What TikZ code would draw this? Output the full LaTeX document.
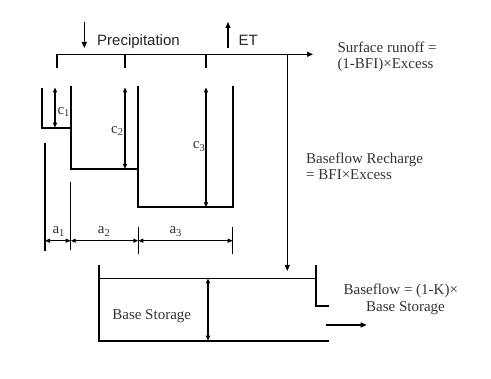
\documentclass[tikz,border=0pt]{standalone}
\usepackage{fontspec}
\setmainfont{Liberation Serif}
\newfontfamily\arialf{Liberation Sans}
\usetikzlibrary{arrows.meta}
\begin{document}
\begin{tikzpicture}[x=1pt,y=-1pt,
  thickline/.style={line width=1.7pt},
  thinline/.style={line width=1.1pt},
  arr/.style={-{Triangle[length=6pt,width=5pt]}, line width=1.1pt},
  dimarr/.style={{Triangle[length=5pt,width=4pt]}-{Triangle[length=5pt,width=4pt]}, line width=1.1pt},
  lbl/.style={inner sep=0pt, text=black!80, font=\fontsize{15}{17}\selectfont},
  slbl/.style={inner sep=0pt, text=black!85, font=\arialf\fontsize{15}{17}\selectfont}]
\useasboundingbox (0,0) rectangle (491,379);
% top inputs
\coordinate (p1) at (84.3,22); \coordinate (p2) at (84.3,48);
\draw[arr] (p1) -- (p2);
\node[slbl, anchor=base west] (prec) at (97,45.7) {Precipitation};
\coordinate (e1) at (228,48); \coordinate (e2) at (228,22);
\draw[arr] (e1) -- (e2);
\node[slbl, anchor=base west] (et) at (238.3,45.7) {ET};
% top line
\coordinate (tl) at (57,54.3); \coordinate (tr) at (313,54.3);
\draw[arr] (tl) -- (tr);
\draw[thinline] (57,54.3) -- (57,67.7) (125,54.3) -- (125,67.7) (206,54.3) -- (206,67.7);
\coordinate (rt) at (287.3,54.3); \coordinate (rb) at (287.3,271);
\draw[arr] (rt) -- (rb);
% buckets
\draw[thickline] (41.7,87.7) -- (41.7,127.7) -- (70.7,127.7);
\draw[thickline] (70.7,86) -- (70.7,169) -- (138.3,169);
\draw[thickline] (138.3,86) -- (138.3,207.3) -- (232.7,207.3) -- (232.7,86);
\draw[dimarr] (55,87.5) -- (55,127.7);
\draw[dimarr] (125,87.5) -- (125,169);
\draw[dimarr] (206,87.5) -- (206,207.3);
\node[lbl, anchor=base west] (c1) at (57.3,114.7) {c\textsubscript{1}};
\node[lbl, anchor=base west] (c2) at (111,133.3) {c\textsubscript{2}};
\node[lbl, anchor=base west] (c3) at (192.7,149) {c\textsubscript{3}};
% widths
\draw[thinline] (45,143) -- (45,251) (70.7,182) -- (70.7,250)
  (138.3,226.7) -- (138.3,254) (232.7,226.7) -- (232.7,254);
\draw[dimarr] (45,240.7) -- (70.7,240.7);
\draw[dimarr] (70.7,240.7) -- (138.3,240.7);
\draw[dimarr] (138.3,240.7) -- (232.7,240.7);
\node[lbl, anchor=base west] (a1) at (52.3,234) {a\textsubscript{1}};
\node[lbl, anchor=base west] (a2) at (97.7,234) {a\textsubscript{2}};
\node[lbl, anchor=base west] (a3) at (169.3,234) {a\textsubscript{3}};
% base storage
\draw[thickline] (99.3,265) -- (99.3,340.7) -- (329.3,340.7);
\draw[thinline] (99.3,278.3) -- (316,278.3);
\draw[thickline] (316,265) -- (316,305.7) -- (329.3,305.7);
\draw[dimarr] (208,278.3) -- (208,340.7);
\node[lbl, anchor=base] (bs) at (151.7,320) {Base Storage};
\coordinate (o1) at (326,325); \coordinate (o2) at (366.7,325);
\draw[arr] (o1) -- (o2);
% texts
\node[lbl, anchor=base west] (sr1) at (337.3,52.3) {Surface runoff =};
\node[lbl, anchor=base west] (sr2) at (337.3,69) {(1-BFI)×Excess};
\node[lbl, anchor=base west] (br1) at (306,163.3) {Baseflow Recharge};
\node[lbl, anchor=base west] (br2) at (306,180) {= BFI×Excess};
\node[lbl, anchor=base] (bf1) at (400.8,294.3) {Baseflow = (1-K)×};
\node[lbl, anchor=base] (bf2) at (405.5,311.7) {Base Storage};
\end{tikzpicture}
\end{document}
